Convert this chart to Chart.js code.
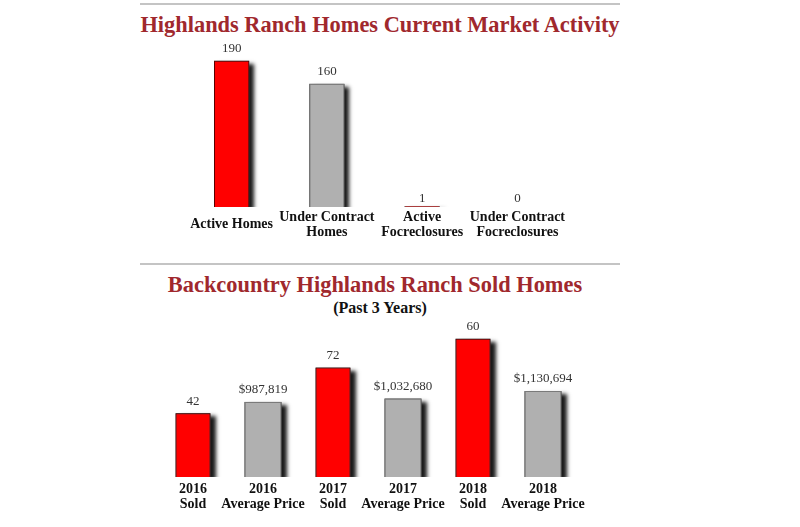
<!DOCTYPE html>
<html>
<head>
<meta charset="utf-8">
<title>Highlands Ranch Market Activity</title>
<script src="https://cdn.jsdelivr.net/npm/chart.js@4/dist/chart.umd.min.js"></script>
<style>
  body { margin: 0; background: #fff; width: 800px; height: 527px; position: relative; overflow: hidden; font-family: 'Liberation Serif', 'Times New Roman', serif; }
  .rule { position: absolute; left: 140px; width: 480px; height: 2px; background: #c4c4c4; }
  .title { position: absolute; left: 140px; width: 480px; text-align: center; margin: 0; font-weight: bold; color: #a0282d; font-size: 22.4px; line-height: 26px; }
  .sub { position: absolute; left: 140px; width: 480px; text-align: center; margin: 0; font-weight: bold; color: #111; font-size: 16px; line-height: 20px; }
  .box { position: absolute; left: 140px; width: 480px; }
</style>
</head>
<body>

<div class="rule" style="top:3px"></div>
<h2 class="title" style="top:12px">Highlands Ranch Homes Current Market Activity</h2>
<div class="box" style="top:40px;height:210px"><canvas id="activity"></canvas></div>

<div class="rule" style="top:263px"></div>
<h2 class="title" style="top:272px;left:135px">Backcountry Highlands Ranch Sold Homes</h2>
<div class="sub" style="top:298px">(Past 3 Years)</div>
<div class="box" style="top:320px;height:207px"><canvas id="sold"></canvas></div>

<script>
//---------------------------- data ----------------------------------------

const activityLabels = [['Active Homes'], ['Under Contract', 'Homes'], ['Active', 'Focreclosures'], ['Under Contract', 'Focreclosures']];
const activityCounts = [190, 160, 1, 0];

const soldYears = ['2016', '2017', '2018'];
// bar heights; the 2018 bar stands near 91 on the
// same scale as the other two even though its printed label says 60
const homesSold = [42, 72, 91];
const homesSoldText = ['42', '72', '60'];
const averagePrice = [987819, 1032680, 1130694];

const RED = '#ff0000';
const GREY = '#b0b0b0';

//---------------------------- plugins -------------------------------------

// dark drop shadow to the right of every bar (drawn before the bars,
// the bar element clips its own shadow when it has a border)
const barShadow = {
  id: 'barShadow',
  beforeDatasetsDraw(chart) {
    const c = chart.ctx;
    const area = chart.chartArea;
    c.save();
    c.beginPath();
    c.rect(area.left, 0, area.right - area.left + 20, area.bottom);
    c.clip();
    c.shadowColor = 'rgba(0,0,0,0.9)';
    c.shadowOffsetX = 5;
    c.shadowOffsetY = 3;
    c.shadowBlur = 4;
    c.fillStyle = '#444';
    chart.data.datasets.forEach((ds, i) => {
      chart.getDatasetMeta(i).data.forEach((bar, j) => {
        if (!ds.data[j]) return;
        const p = bar.getProps(['x', 'y', 'base', 'width']);
        c.fillRect(p.x - p.width / 2, p.y, p.width, p.base - p.y);
      });
    });
    c.restore();
  }
};

// number printed above each bar
const valueText = {
  id: 'valueText',
  afterDatasetsDraw(chart) {
    const c = chart.ctx;
    c.save();
    c.font = '13px "Liberation Serif", serif';
    c.fillStyle = '#333';
    c.textAlign = 'center';
    c.textBaseline = 'middle';
    chart.data.datasets.forEach((ds, i) => {
      const meta = chart.getDatasetMeta(i);
      meta.data.forEach((bar, j) => {
        if (ds.data[j] === null) return;
        c.fillText(ds.valueText[j], bar.x, bar.y - (ds.data[j] > 5 ? 12 : 8));
      });
    });
    c.restore();
  }
};

const tickFont = { family: "'Liberation Serif', serif", size: 14, weight: 'bold', lineHeight: 1.12 };

//---------------------------- chart 1 -------------------------------------

new Chart(document.getElementById('activity'), {
  type: 'bar',
  data: {
    labels: activityLabels,
    datasets: [{
      data: activityCounts,
      valueText: activityCounts.map(String),
      backgroundColor: [RED, GREY, RED, GREY],
      borderColor: ['#5a0000', '#7a7a7a', '#a04040', '#7a7a7a'],
      borderWidth: 1,
      borderSkipped: 'bottom',
      categoryPercentage: 1,
      barPercentage: 0.37
    }]
  },
  options: {
    responsive: true,
    maintainAspectRatio: false,
    animation: false,
    layout: { padding: { top: 13, left: 44, right: 55, bottom: 0 } },
    plugins: { legend: { display: false }, tooltip: { enabled: false } },
    scales: {
      x: {
        grid: { display: false },
        border: { display: false },
        ticks: { color: '#111', font: tickFont, padding: 2, crossAlign: 'center', maxRotation: 0, autoSkip: false },
        afterFit: (axis) => { axis.height = 43; }
      },
      y: { display: false, min: 0, max: 200 }
    }
  },
  plugins: [barShadow, valueText]
});

//---------------------------- chart 2 -------------------------------------

const soldLabels = soldYears.flatMap(y => [[y, 'Sold'], [y, 'Average Price']]);
const soldData = soldYears.flatMap((y, i) => [homesSold[i], null]);
const soldText = soldYears.flatMap((y, i) => [homesSoldText[i], null]);
const priceData = soldYears.flatMap((y, i) => [null, averagePrice[i]]);
const priceText = soldYears.flatMap((y, i) => [null, '$' + averagePrice[i].toLocaleString('en-US')]);

new Chart(document.getElementById('sold'), {
  type: 'bar',
  data: {
    labels: soldLabels,
    datasets: [{
      data: soldData,
      valueText: soldText,
      yAxisID: 'y',
      backgroundColor: RED,
      borderColor: '#5a0000',
      borderWidth: 1,
      borderSkipped: 'bottom',
      grouped: false,
      categoryPercentage: 1,
      barPercentage: 0.5
    }, {
      data: priceData,
      valueText: priceText,
      yAxisID: 'price',
      backgroundColor: GREY,
      borderColor: '#7a7a7a',
      borderWidth: 1,
      borderSkipped: 'bottom',
      grouped: false,
      categoryPercentage: 1,
      barPercentage: 0.53
    }]
  },
  options: {
    responsive: true,
    maintainAspectRatio: false,
    animation: false,
    layout: { padding: { top: 5, left: 18, right: 42, bottom: 0 } },
    plugins: { legend: { display: false }, tooltip: { enabled: false } },
    scales: {
      x: {
        grid: { display: false },
        border: { display: false },
        ticks: { color: '#111', font: tickFont, padding: 4, crossAlign: 'center', maxRotation: 0, autoSkip: false },
        afterFit: (axis) => { axis.height = 50; }
      },
      y: { display: false, min: 0, max: 100 },
      price: { display: false, min: 0, max: 2000000 }
    }
  },
  plugins: [barShadow, valueText]
});
</script>
</body>
</html>
